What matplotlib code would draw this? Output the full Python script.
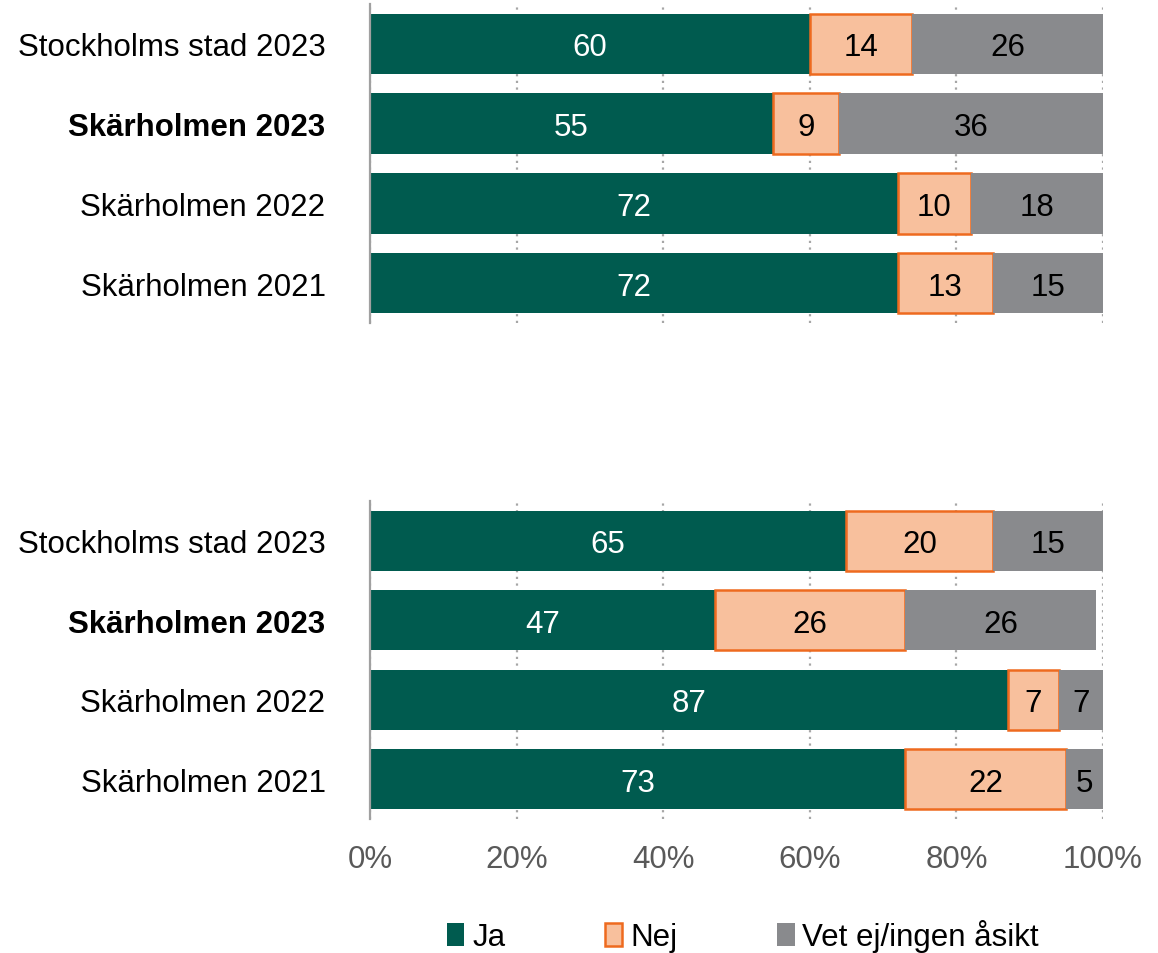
import matplotlib.pyplot as plt
import numpy as np

plt.rcParams['font.family'] = ['Liberation Sans', 'DejaVu Sans']

categories = ['Stockholms stad 2023', 'Skärholmen 2023', 'Skärholmen 2022', 'Skärholmen 2021']
bold_category = 'Skärholmen 2023'
series_names = ['Ja', 'Nej', 'Vet ej/ingen åsikt']

top_ja = [60, 55, 72, 72]
top_nej = [14, 9, 10, 13]
top_vet = [26, 36, 18, 15]

bottom_ja = [65, 47, 87, 73]
bottom_nej = [20, 26, 7, 22]
bottom_vet = [15, 26, 7, 5]

x_ticks = [0, 20, 40, 60, 80, 100]
x_tick_labels = ['0%', '20%', '40%', '60%', '80%', '100%']

GREEN = '#005B4F'
PEACH = '#F8C09D'
ORANGE = '#EE6A1F'
GRAY = '#898A8D'
FS = 22.5

fig = plt.figure(figsize=(11.58, 9.54), dpi=100)
ax_top = fig.add_axes([370 / 1158, 1 - 324 / 954, 733 / 1158, 319 / 954])
ax_bot = fig.add_axes([370 / 1158, 1 - 820 / 954, 733 / 1158, 318 / 954])


def draw(ax, ja, nej, vet, show_x):
    y = np.arange(len(categories))
    left = np.zeros(len(categories))
    handles = []
    styles = [(GREEN, GREEN, 0.0, 'white'),
              (PEACH, ORANGE, 1.8, 'black'),
              (GRAY, GRAY, 0.0, 'black')]
    for vals, name, (fc, ec, lw, tc) in zip([ja, nej, vet], series_names, styles):
        vals = np.array(vals, dtype=float)
        bars = ax.barh(y, vals, left=left, height=0.76, color=fc,
                       edgecolor=ec, linewidth=lw, label=name, zorder=3)
        handles.append(bars)
        for yi, l, v in zip(y, left, vals):
            right = min(l + v, 100)
            ax.text((l + right) / 2, yi, f'{int(v)}', ha='center', va='center_baseline',
                    color=tc, fontsize=FS, zorder=4)
        left = left + vals
    ax.set_xlim(0, 100)
    ax.set_ylim(len(categories) - 0.5, -0.5)
    ax.set_yticks(y)
    ax.set_yticklabels(categories, fontsize=FS)
    for lab in ax.get_yticklabels():
        if lab.get_text() == bold_category:
            lab.set_fontweight('bold')
    ax.tick_params(axis='y', length=0, pad=32)
    ax.set_xticks(x_ticks)
    if show_x:
        ax.set_xticklabels(x_tick_labels, fontsize=FS, color='#595959')
        ax.tick_params(axis='x', length=0, pad=18)
    else:
        ax.tick_params(axis='x', length=0, labelbottom=False)
    ax.grid(axis='x', color='#A6A6A6', linestyle=(0, (1, 2)), linewidth=1.6, zorder=0)
    for s in ['top', 'right', 'bottom']:
        ax.spines[s].set_visible(False)
    ax.spines['left'].set_color('#A0A0A0')
    ax.spines['left'].set_linewidth(1.6)
    ax.spines['left'].set_zorder(5)
    return handles


draw(ax_top, top_ja, top_nej, top_vet, False)
handles = draw(ax_bot, bottom_ja, bottom_nej, bottom_vet, True)

fig.legend(handles, series_names, loc='center', bbox_to_anchor=(743 / 1158, 1 - 937 / 954),
           ncol=3, frameon=False, fontsize=FS, handlelength=0.55, handleheight=0.75,
           handletextpad=0.25, columnspacing=3.2)

fig.savefig('out.png', dpi=100)
